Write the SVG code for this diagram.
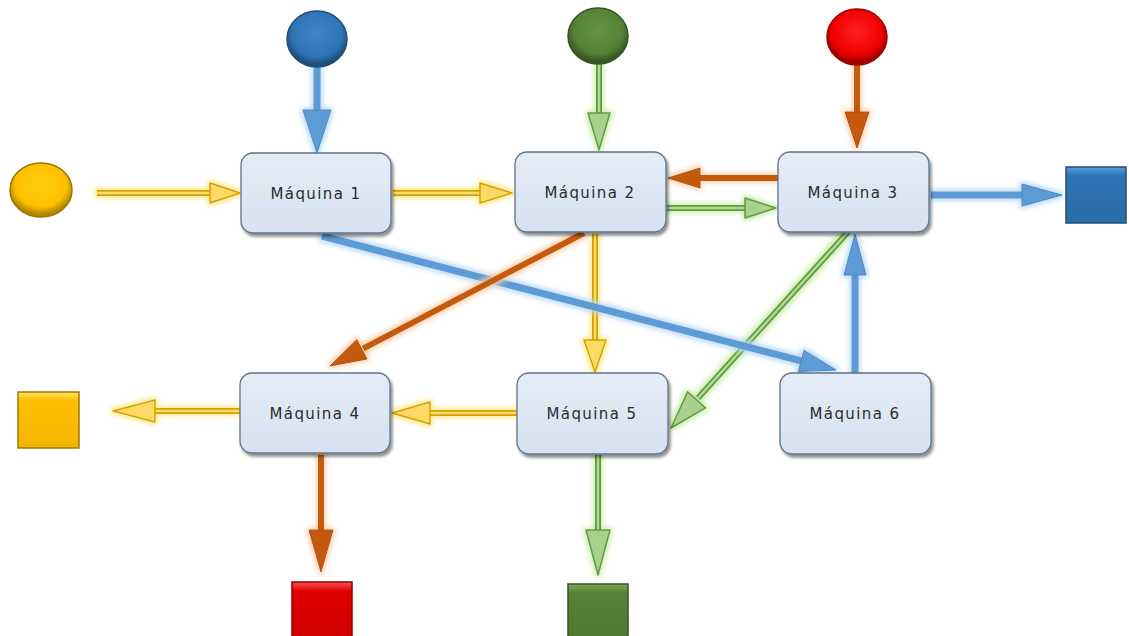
<svg xmlns="http://www.w3.org/2000/svg" width="1129" height="636" viewBox="0 0 1129 636">
  <style>
    .node rect { fill: url(#nodeFill); stroke: #5F7389; stroke-width: 1.3; filter: url(#shadow); }
    .node text { font-family: "DejaVu Sans", "Liberation Sans", sans-serif; font-size: 15px; letter-spacing: 1.4px; fill: #2B2B2B; text-anchor: middle; }
    .y-out { stroke: #CDA400; stroke-width: 6; fill: none; }
    .y-in  { stroke: #FFDC6E; stroke-width: 2.4; fill: none; }
    .y-head { fill: #FFD966; stroke: #CDA400; stroke-width: 1.5; stroke-linejoin: round; }
    .g-out { stroke: #5E9A3C; stroke-width: 6; fill: none; }
    .g-in  { stroke: #B4DA98; stroke-width: 2.4; fill: none; }
    .g-head { fill: #A9D18E; stroke: #5E9A3C; stroke-width: 1.5; stroke-linejoin: round; }
    .b-shaft { stroke: #5B9BD5; stroke-width: 7; fill: none; }
    .b-head { fill: #5B9BD5; stroke: #4A87C2; stroke-width: 1; stroke-linejoin: round; }
    .o-shaft { stroke: #C55A11; stroke-width: 6; fill: none; }
    .o-head { fill: #C55A11; stroke: #B04E0C; stroke-width: 1; stroke-linejoin: round; }
  </style>
  <defs>
    <linearGradient id="nodeFill" x1="0" y1="0" x2="0" y2="1">
      <stop offset="0" stop-color="#E4ECF7"/>
      <stop offset="1" stop-color="#D6E2F1"/>
    </linearGradient>
    <filter id="shadow" x="-10%" y="-10%" width="125%" height="135%">
      <feDropShadow dx="2" dy="3" stdDeviation="1.8" flood-color="#000" flood-opacity="0.45"/>
    </filter>
    <filter id="glowY" x="-20%" y="-20%" width="140%" height="140%">
      <feMorphology in="SourceAlpha" operator="dilate" radius="2" result="d"/>
      <feGaussianBlur in="d" stdDeviation="2.5" result="b"/>
      <feFlood flood-color="#FFE680" flood-opacity="0.9"/>
      <feComposite in2="b" operator="in" result="g"/>
      <feMerge><feMergeNode in="g"/><feMergeNode in="SourceGraphic"/></feMerge>
    </filter>
    <filter id="glowG" x="-20%" y="-20%" width="140%" height="140%">
      <feMorphology in="SourceAlpha" operator="dilate" radius="2" result="d"/>
      <feGaussianBlur in="d" stdDeviation="2.5" result="b"/>
      <feFlood flood-color="#C8EDA8" flood-opacity="0.9"/>
      <feComposite in2="b" operator="in" result="g"/>
      <feMerge><feMergeNode in="g"/><feMergeNode in="SourceGraphic"/></feMerge>
    </filter>
    <filter id="glowB" x="-20%" y="-20%" width="140%" height="140%">
      <feMorphology in="SourceAlpha" operator="dilate" radius="2" result="d"/>
      <feGaussianBlur in="d" stdDeviation="2.5" result="b"/>
      <feFlood flood-color="#B4D6F4" flood-opacity="0.9"/>
      <feComposite in2="b" operator="in" result="g"/>
      <feMerge><feMergeNode in="g"/><feMergeNode in="SourceGraphic"/></feMerge>
    </filter>
    <filter id="glowO" x="-20%" y="-20%" width="140%" height="140%">
      <feMorphology in="SourceAlpha" operator="dilate" radius="2" result="d"/>
      <feGaussianBlur in="d" stdDeviation="2.5" result="b"/>
      <feFlood flood-color="#F9CFA8" flood-opacity="0.9"/>
      <feComposite in2="b" operator="in" result="g"/>
      <feMerge><feMergeNode in="g"/><feMergeNode in="SourceGraphic"/></feMerge>
    </filter>
    <!-- bevelled ball fills -->
    <radialGradient id="ballBlue" cx="50%" cy="40%" r="55%">
      <stop offset="0" stop-color="#3F86C8"/>
      <stop offset="0.75" stop-color="#2E75B6"/>
      <stop offset="1" stop-color="#1F4E79"/>
    </radialGradient>
    <radialGradient id="ballGreen" cx="50%" cy="40%" r="55%">
      <stop offset="0" stop-color="#629540"/>
      <stop offset="0.75" stop-color="#548235"/>
      <stop offset="1" stop-color="#375623"/>
    </radialGradient>
    <radialGradient id="ballRed" cx="50%" cy="40%" r="55%">
      <stop offset="0" stop-color="#FF2020"/>
      <stop offset="0.75" stop-color="#F00000"/>
      <stop offset="1" stop-color="#A00000"/>
    </radialGradient>
    <radialGradient id="ballYellow" cx="50%" cy="40%" r="55%">
      <stop offset="0" stop-color="#FFCC10"/>
      <stop offset="0.75" stop-color="#FFC000"/>
      <stop offset="1" stop-color="#B08500"/>
    </radialGradient>
    <linearGradient id="sqBlue" x1="0" y1="0" x2="0" y2="1">
      <stop offset="0" stop-color="#5B9BD5"/><stop offset="0.15" stop-color="#2E75B6"/><stop offset="1" stop-color="#2A6BA8"/>
    </linearGradient>
    <linearGradient id="sqYellow" x1="0" y1="0" x2="0" y2="1">
      <stop offset="0" stop-color="#FFE066"/><stop offset="0.15" stop-color="#FFC000"/><stop offset="1" stop-color="#F2B500"/>
    </linearGradient>
    <linearGradient id="sqRed" x1="0" y1="0" x2="0" y2="1">
      <stop offset="0" stop-color="#FF5050"/><stop offset="0.15" stop-color="#E00000"/><stop offset="1" stop-color="#D00000"/>
    </linearGradient>
    <linearGradient id="sqGreen" x1="0" y1="0" x2="0" y2="1">
      <stop offset="0" stop-color="#7AAE55"/><stop offset="0.15" stop-color="#548235"/><stop offset="1" stop-color="#4E7A31"/>
    </linearGradient>
  </defs>

  <rect width="1129" height="636" fill="#FFFFFF"/>

  <!-- connectors -->
  <g id="connectors">
    <!-- yellow flow -->
    <g filter="url(#glowY)">
      <line class="y-out" x1="97" y1="193" x2="212" y2="193"/><line class="y-in" x1="97" y1="193" x2="212" y2="193"/>
      <polygon class="y-head" points="210,183 210,203 240,193"/>
      <line class="y-out" x1="393" y1="193" x2="482" y2="193"/><line class="y-in" x1="393" y1="193" x2="482" y2="193"/>
      <polygon class="y-head" points="480,183 480,203 512,193"/>
      <line class="y-out" x1="595" y1="234" x2="595" y2="342"/><line class="y-in" x1="595" y1="234" x2="595" y2="342"/>
      <polygon class="y-head" points="584,340 606,340 595,372"/>
      <line class="y-out" x1="517" y1="413" x2="428" y2="413"/><line class="y-in" x1="517" y1="413" x2="428" y2="413"/>
      <polygon class="y-head" points="430,402 430,424 392,413"/>
      <line class="y-out" x1="240" y1="411" x2="153" y2="411"/><line class="y-in" x1="240" y1="411" x2="153" y2="411"/>
      <polygon class="y-head" points="155,400 155,422 113,411"/>
    </g>
    <!-- green flow -->
    <g filter="url(#glowG)">
      <line class="g-out" x1="599" y1="63" x2="599" y2="115"/><line class="g-in" x1="599" y1="63" x2="599" y2="115"/>
      <polygon class="g-head" points="588,113 610,113 599,150"/>
      <line class="g-out" x1="667" y1="208" x2="747" y2="208"/><line class="g-in" x1="667" y1="208" x2="747" y2="208"/>
      <polygon class="g-head" points="745,198 745,218 776,208"/>
      <line class="g-out" x1="848" y1="232" x2="698" y2="398"/><line class="g-in" x1="848" y1="232" x2="698" y2="398"/>
      <polygon class="g-head" points="687.6,391.8 705.4,407.8 671,428"/>
      <line class="g-out" x1="598" y1="455" x2="598" y2="532"/><line class="g-in" x1="598" y1="455" x2="598" y2="532"/>
      <polygon class="g-head" points="586,530 610,530 598,575"/>
    </g>
    <!-- blue flow -->
    <g filter="url(#glowB)">
      <line class="b-shaft" x1="317" y1="67" x2="317" y2="112"/>
      <polygon class="b-head" points="303,110 331,110 317,153"/>
      <line class="b-shaft" x1="931" y1="195" x2="1024" y2="195"/>
      <polygon class="b-head" points="1022,184 1022,206 1062,195"/>
      <line class="b-shaft" x1="322" y1="236" x2="803" y2="361.4"/>
      <polygon class="b-head" points="798.4,371.5 804,350.3 836,370"/>
      <line class="b-shaft" x1="855" y1="373" x2="855" y2="273"/>
      <polygon class="b-head" points="844,275 866,275 855,234"/>
    </g>
    <!-- orange flow -->
    <g filter="url(#glowO)">
      <line class="o-shaft" x1="857" y1="65" x2="857" y2="114"/>
      <polygon class="o-head" points="845,112 869,112 857,148"/>
      <line class="o-shaft" x1="778" y1="178" x2="698" y2="178"/>
      <polygon class="o-head" points="700,168 700,188 668,178"/>
      <line class="o-shaft" x1="584" y1="233" x2="363" y2="348.6"/>
      <polygon class="o-head" points="356.8,339.6 367,359 330,366"/>
      <line class="o-shaft" x1="321" y1="455" x2="321" y2="532"/>
      <polygon class="o-head" points="309,530 333,530 321,572"/>
    </g>
  </g>

  <!-- sources -->
  <g id="source-blue"><ellipse cx="317" cy="39" rx="30" ry="28" fill="url(#ballBlue)" stroke="#1F4E79" stroke-width="1.5"/></g>
  <g id="source-green"><ellipse cx="598" cy="36" rx="30" ry="28" fill="url(#ballGreen)" stroke="#375623" stroke-width="1.5"/></g>
  <g id="source-red"><ellipse cx="857" cy="37" rx="30" ry="28" fill="url(#ballRed)" stroke="#A00000" stroke-width="1.5"/></g>
  <g id="source-yellow"><ellipse cx="41" cy="190" rx="31" ry="27" fill="url(#ballYellow)" stroke="#9C7800" stroke-width="1.5"/></g>

  <!-- machines -->
  <g id="maquina-1" class="node"><rect x="241" y="153" width="150" height="80" rx="12"/><text x="316" y="199">Máquina 1</text></g>
  <g id="maquina-2" class="node"><rect x="515" y="152" width="151" height="80" rx="12"/><text x="590" y="198">Máquina 2</text></g>
  <g id="maquina-3" class="node"><rect x="778" y="152" width="151" height="80" rx="12"/><text x="853" y="198">Máquina 3</text></g>
  <g id="maquina-4" class="node"><rect x="240" y="373" width="150" height="80" rx="12"/><text x="315" y="419">Máquina 4</text></g>
  <g id="maquina-5" class="node"><rect x="517" y="373" width="151" height="81" rx="12"/><text x="592" y="419">Máquina 5</text></g>
  <g id="maquina-6" class="node"><rect x="780" y="373" width="151" height="81" rx="12"/><text x="855" y="419">Máquina 6</text></g>

  <!-- sinks -->
  <g id="sink-blue"><rect x="1066" y="167" width="60" height="56" fill="url(#sqBlue)" stroke="#1F4E79" stroke-width="1.5"/></g>
  <g id="sink-yellow"><rect x="18" y="392" width="61" height="56" fill="url(#sqYellow)" stroke="#9C7800" stroke-width="1.5"/></g>
  <g id="sink-red"><rect x="292" y="582" width="60" height="60" fill="url(#sqRed)" stroke="#8C0000" stroke-width="1.5"/></g>
  <g id="sink-green"><rect x="568" y="584" width="60" height="60" fill="url(#sqGreen)" stroke="#375623" stroke-width="1.5"/></g>
</svg>
